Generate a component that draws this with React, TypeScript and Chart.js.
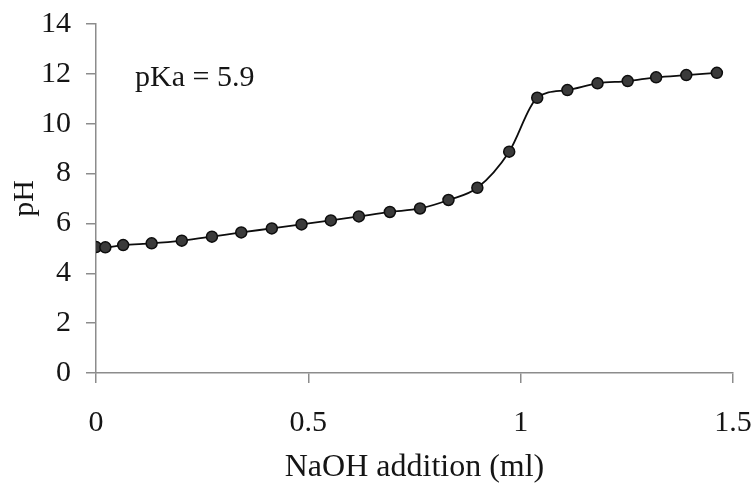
import React, { useEffect, useRef } from "react";
import { Chart, registerables } from "chart.js";

Chart.register(...registerables);

const naohMl = [0, 0.022, 0.064, 0.131, 0.202, 0.273, 0.342, 0.414, 0.484, 0.553, 0.619, 0.692, 0.763, 0.83, 0.898, 0.973, 1.039, 1.11, 1.181, 1.252, 1.319, 1.39, 1.462];
const phValues = [5.05, 5.04, 5.13, 5.2, 5.31, 5.47, 5.64, 5.8, 5.96, 6.12, 6.28, 6.46, 6.6, 6.94, 7.43, 8.88, 11.04, 11.35, 11.62, 11.71, 11.86, 11.95, 12.04];

const xTicks = [0, 0.5, 1, 1.5];
const xTitle = "NaOH addition (ml)";
const yTitle = "pH";
const annotationText = "pKa = 5.9";
const annotationX = 0.092;
const annotationY = 11.5;

const FONT = "'Liberation Serif', 'Times New Roman', serif";
const AXIS_COLOR = "#8c8c8c";
const TEXT_COLOR = "#151515";

const annotationPlugin = {
  id: "pkaLabel",
  afterDatasetsDraw(chart: any) {
    const { ctx, scales } = chart;
    const px = scales.x.getPixelForValue(annotationX);
    const py = scales.y.getPixelForValue(annotationY);
    ctx.save();
    ctx.font = `30px ${FONT}`;
    ctx.fillStyle = TEXT_COLOR;
    ctx.textAlign = "left";
    ctx.textBaseline = "alphabetic";
    ctx.fillText(annotationText, px, py);
    ctx.restore();
  },
};

export default function App() {
  const canvasRef = useRef<HTMLCanvasElement | null>(null);

  useEffect(() => {
    if (!canvasRef.current) return;
    const points = naohMl.map((x, i) => ({ x, y: phValues[i] }));
    const chart = new Chart(canvasRef.current, {
      type: "line",
      data: {
        datasets: [
          {
            data: points,
            borderColor: "#0d0d0d",
            borderWidth: 1.8,
            backgroundColor: "#3a3a3a",
            pointBackgroundColor: "#3a3a3a",
            pointBorderColor: "#0d0d0d",
            pointBorderWidth: 1.5,
            pointRadius: 5.5,
            cubicInterpolationMode: "monotone",
            fill: false,
          },
        ],
      },
      options: {
        responsive: false,
        animation: false,
        layout: { padding: { top: 24, right: 21, left: 0, bottom: 0 } },
        plugins: {
          legend: { display: false },
          tooltip: { enabled: false },
        },
        scales: {
          x: {
            type: "linear",
            min: 0,
            max: 1.5,
            afterFit(scale: any) {
              scale.height = 113;
              scale.paddingLeft = 0;
              scale.paddingRight = 0;
            },
            afterBuildTicks(scale: any) {
              scale.ticks = xTicks.map((v) => ({ value: v }));
            },
            ticks: {
              padding: 22,
              color: TEXT_COLOR,
              font: { family: FONT, size: 30 },
              maxRotation: 0,
              callback: (v: any) => String(Number(v)),
            },
            grid: {
              display: true,
              drawOnChartArea: false,
              drawTicks: true,
              tickLength: 10,
              color: AXIS_COLOR,
              lineWidth: 1.5,
            },
            border: { display: true, color: AXIS_COLOR, width: 1.5 },
            title: {
              display: true,
              text: xTitle,
              color: TEXT_COLOR,
              font: { family: FONT, size: 32, lineHeight: 1 },
              padding: { top: 0, bottom: 2 },
            },
          },
          y: {
            type: "linear",
            min: 0,
            max: 14,
            afterFit(scale: any) {
              scale.width = 96;
              scale.paddingTop = 0;
              scale.paddingBottom = 0;
            },
            ticks: {
              stepSize: 2,
              padding: 15,
              color: TEXT_COLOR,
              font: { family: FONT, size: 30 },
            },
            grid: {
              display: true,
              drawOnChartArea: false,
              drawTicks: true,
              tickLength: 10,
              color: AXIS_COLOR,
              lineWidth: 1.5,
            },
            border: { display: true, color: AXIS_COLOR, width: 1.5 },
            title: {
              display: true,
              text: yTitle,
              color: TEXT_COLOR,
              font: { family: FONT, size: 30, lineHeight: 1 },
              padding: { top: 10, bottom: 0 },
            },
          },
        },
      },
      plugins: [annotationPlugin],
    } as any);
    return () => chart.destroy();
  }, []);

  return (
    <div style={{ position: "fixed", left: 0, top: 0, width: 754, height: 486, background: "#ffffff" }}>
      <canvas ref={canvasRef} width={754} height={486} style={{ display: "block" }} />
    </div>
  );
}
